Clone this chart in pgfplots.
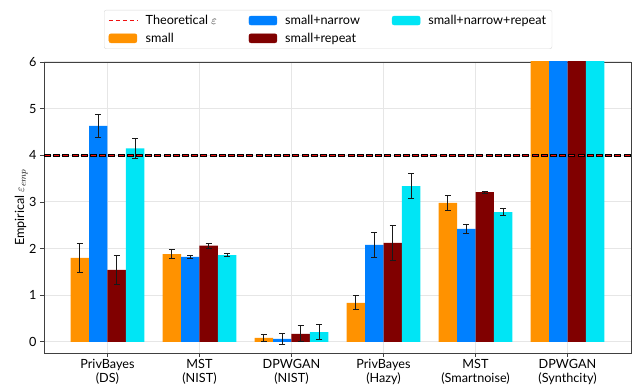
\documentclass[border=0pt]{standalone}
\usepackage{pgfplots}
\pgfplotsset{compat=1.18}
\usepackage{pgfplotstable}
\usepackage{fontspec}
\setmainfont{Lato}
\definecolor{barOrange}{RGB}{255,146,0}
\definecolor{barBlue}{RGB}{0,128,255}
\definecolor{barMaroon}{RGB}{128,0,0}
\definecolor{barCyan}{RGB}{0,229,245}
\definecolor{theoRed}{RGB}{240,16,16}
\definecolor{axisGray}{RGB}{64,64,64}
\definecolor{gridGray}{RGB}{230,230,230}
\definecolor{errGray}{RGB}{25,25,25}
\pgfplotstableread{
x y e
0 1.80 0.31
1 1.88 0.09
2 0.085 0.07
3 0.835 0.15
4 2.98 0.16
5 8.0 0.0
}\tabSmall
\pgfplotstableread{
x y e
0 4.63 0.24
1 1.82 0.03
2 0.065 0.12
3 2.08 0.27
4 2.42 0.09
5 8.0 0.0
}\tabNarrow
\pgfplotstableread{
x y e
0 1.54 0.32
1 2.06 0.05
2 0.17 0.17
3 2.12 0.38
4 3.21 0.02
5 8.0 0.0
}\tabRepeat
\pgfplotstableread{
x y e
0 4.15 0.21
1 1.86 0.03
2 0.21 0.17
3 3.34 0.27
4 2.78 0.08
5 8.0 0.0
}\tabNarrowRepeat
% dashes of the theoretical epsilon line (y = 4)
\pgfplotstableread{
x y
-0.655 4
-0.555 4
-0.455 4
-0.355 4
-0.255 4
-0.155 4
-0.055 4
0.045 4
0.145 4
0.245 4
0.345 4
0.445 4
0.545 4
0.645 4
0.745 4
0.845 4
0.945 4
1.045 4
1.145 4
1.245 4
1.345 4
1.445 4
1.545 4
1.645 4
1.745 4
1.845 4
1.945 4
2.045 4
2.145 4
2.245 4
2.345 4
2.445 4
2.545 4
2.645 4
2.745 4
2.845 4
2.945 4
3.045 4
3.145 4
3.245 4
3.345 4
3.445 4
3.545 4
3.645 4
3.745 4
3.845 4
3.945 4
4.045 4
4.145 4
4.245 4
4.345 4
4.445 4
4.545 4
4.645 4
4.745 4
4.845 4
4.945 4
5.045 4
5.145 4
5.245 4
5.345 4
5.445 4
5.545 4
5.645 4
}\tabTheo
\begin{document}
\begin{tikzpicture}
\useasboundingbox (-44bp,-37bp) rectangle (589bp,353bp);
\begin{axis}[
  scale only axis,
  width=587bp, height=291bp,
  xmin=-0.69, xmax=5.69,
  ymin=-0.24, ymax=6,
  xtick={0,1,2,3,4,5},
  xticklabels={{PrivBayes\\(DS)},{MST\\(NIST)},{DPWGAN\\(NIST)},{PrivBayes\\(Hazy)},{MST\\(Smartnoise)},{DPWGAN\\(Synthcity)}},
  xticklabel style={align=center, font=\fontsize{12.7}{14}\selectfont, yshift=1bp},
  ytick={0,1,2,3,4,5,6},
  yticklabel style={font=\fontsize{12.7}{14}\selectfont},
  /pgf/number format/assume math mode=true,
  tick align=outside,
  major tick length=4bp,
  xtick pos=bottom, ytick pos=left,
  tick style={axisGray, line width=0.8pt},
  grid=major,
  grid style={gridGray, line width=1pt},
  axis line style={axisGray, line width=0.9pt},
  ylabel={Empirical $\varepsilon_{emp}$},
  ylabel style={font=\fontsize{12.7}{14}\selectfont, at={(axis description cs:-0.022,0.5)}, anchor=south},
  legend columns=3,
  legend style={at={(0.484,1.045)}, anchor=south, draw=black!15, rounded corners=2pt,
    font=\fontsize{12.7}{14}\selectfont, inner xsep=4pt, inner ysep=3pt,
    /tikz/every even column/.append style={column sep=30bp},
    /tikz/every odd column/.append style={column sep=6bp}, row sep=3pt},
  legend cell align=left,
]
\addlegendimage{legend image code/.code={\draw[draw=theoRed, line width=1.5pt, dash pattern=on 4.5pt off 2.5pt] (0bp,0bp) -- (28bp,0bp);}}
\addlegendentry{Theoretical $\varepsilon$}
\addlegendimage{legend image code/.code={\fill[barBlue] (0bp,-4.5bp) rectangle (28bp,4.5bp);}}
\addlegendentry{small+narrow}
\addlegendimage{legend image code/.code={\fill[barCyan] (0bp,-4.5bp) rectangle (28bp,4.5bp);}}
\addlegendentry{small+narrow+repeat}
\addlegendimage{legend image code/.code={\fill[barOrange] (0bp,-4.5bp) rectangle (28bp,4.5bp);}}
\addlegendentry{small}
\addlegendimage{legend image code/.code={\fill[barMaroon] (0bp,-4.5bp) rectangle (28bp,4.5bp);}}
\addlegendentry{small+repeat}

\addplot[ybar, bar width=0.2, bar shift=-0.3, fill=barOrange, draw=none] table[x=x, y=y] {\tabSmall};
\addplot[ybar, bar width=0.2, bar shift=-0.1, fill=barBlue, draw=none] table[x=x, y=y] {\tabNarrow};
\addplot[ybar, bar width=0.2, bar shift=0.1, fill=barMaroon, draw=none] table[x=x, y=y] {\tabRepeat};
\addplot[ybar, bar width=0.2, bar shift=0.3, fill=barCyan, draw=none] table[x=x, y=y] {\tabNarrowRepeat};

\addplot[draw=none, mark=none, errGray, line width=1pt,
  error bars/.cd, y dir=both, y explicit, error bar style={line width=1pt, errGray},
  error mark options={rotate=90, mark size=3pt, line width=1pt, errGray}]
  table[x expr=\thisrow{x}-0.3, y=y, y error=e] {\tabSmall};
\addplot[draw=none, mark=none, errGray, line width=1pt,
  error bars/.cd, y dir=both, y explicit, error bar style={line width=1pt, errGray},
  error mark options={rotate=90, mark size=3pt, line width=1pt, errGray}]
  table[x expr=\thisrow{x}-0.1, y=y, y error=e] {\tabNarrow};
\addplot[draw=none, mark=none, errGray, line width=1pt,
  error bars/.cd, y dir=both, y explicit, error bar style={line width=1pt, errGray},
  error mark options={rotate=90, mark size=3pt, line width=1pt, errGray}]
  table[x expr=\thisrow{x}+0.1, y=y, y error=e] {\tabRepeat};
\addplot[draw=none, mark=none, errGray, line width=1pt,
  error bars/.cd, y dir=both, y explicit, error bar style={line width=1pt, errGray},
  error mark options={rotate=90, mark size=3pt, line width=1pt, errGray}]
  table[x expr=\thisrow{x}+0.3, y=y, y error=e] {\tabNarrowRepeat};

% theoretical epsilon as filled dash marks
\addplot[only marks, mark=square*, mark size=3bp,
  mark options={draw=none, fill=theoRed, yscale=0.25}] table[x=x, y=y] {\tabTheo};
\end{axis}
\end{tikzpicture}
\end{document}
